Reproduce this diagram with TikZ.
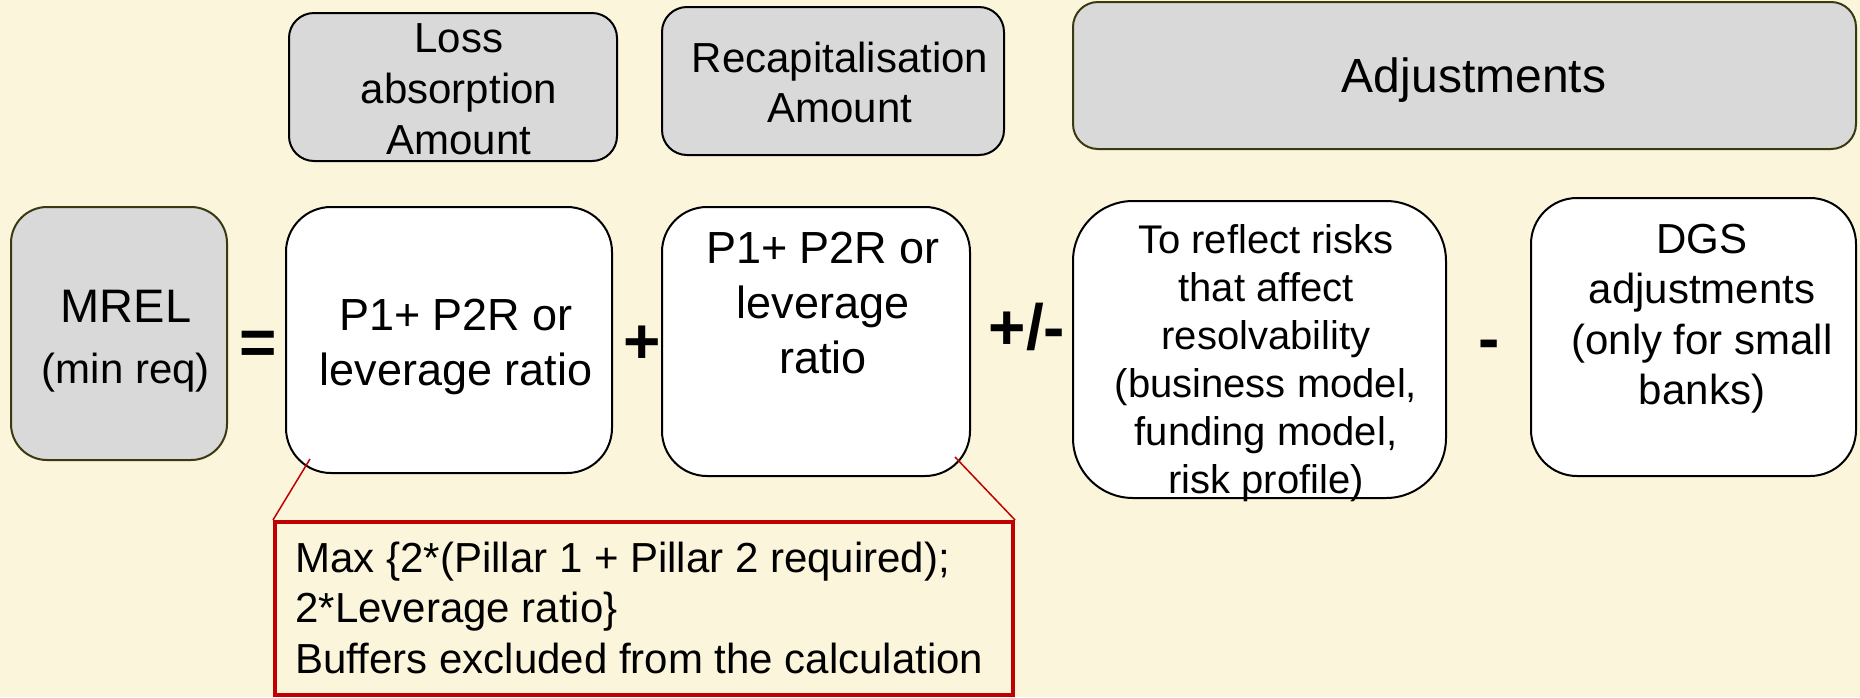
\documentclass[tikz,border=0pt]{standalone}
\usepackage{fontspec}
\setmainfont{Liberation Sans}
\usetikzlibrary{fit}
\definecolor{bgcream}{RGB}{250,245,219}
\definecolor{boxgray}{RGB}{217,217,217}
\definecolor{edgeolive}{RGB}{58,58,18}
\definecolor{notered}{RGB}{192,0,0}
\newcommand{\firstline}{\rule{0pt}{18pt}}
\begin{document}
\begin{tikzpicture}[x=0.5pt,y=-0.5pt,
  boxbase/.style={draw=black, line width=1pt, inner sep=0pt},
  graybox/.style={boxbase, fill=boxgray},
  whitebox/.style={boxbase, fill=white},
  txt/.style={align=center, inner sep=0pt, text=black},
  fsA/.style={font=\fontsize{21}{25.5}\selectfont},
  fsB/.style={font=\fontsize{22.5}{27.5}\selectfont},
  fsC/.style={font=\fontsize{20}{24}\selectfont},
  sign/.style={inner sep=0pt, font=\fontsize{32}{38}\selectfont\bfseries},
  redline/.style={draw=notered, line width=0.75pt}
]
% canvas
\fill[bgcream] (0,0) rectangle (1860,697);
\useasboundingbox (0,0) rectangle (1860,697);

% header boxes
\node[graybox, rounded corners=12.5pt, fit={(289,13) (617,161)}] (loss) {};
\node[graybox, rounded corners=12.5pt, fit={(662,7) (1004,155)}] (recap) {};
\node[graybox, draw=edgeolive, rounded corners=12.5pt, fit={(1073,2) (1856,149)}] (adj) {};

% formula boxes
\node[graybox, draw=edgeolive, rounded corners=18pt, fit={(11,207) (227,460)}] (mrel) {};
\node[whitebox, rounded corners=22.5pt, fit={(286,207) (612,473)}] (p1a) {};
\node[whitebox, rounded corners=22.5pt, fit={(662,207) (970,476)}] (p1b) {};
\node[whitebox, rounded corners=30pt, fit={(1073,201) (1446,498)}] (risk) {};
\node[whitebox, rounded corners=23pt, fit={(1531,198) (1856,476)}] (dgs) {};

% note box
\node[draw=notered, line width=2pt, inner sep=0pt, fit={(275,522) (1013,695)}] (note) {};

% callout lines
\coordinate (ca) at (310,459);
\coordinate (cb) at (955,457);
\draw[redline] (ca) -- (note.north west);
\draw[redline] (cb) -- (note.north east);

% header texts
\node[txt, fsA, anchor=north] (loss-t) at (459,16) {\firstline Loss\\absorption\\Amount};
\node[txt, font=\fontsize{21}{25}\selectfont, anchor=north] (recap-t) at (840,36) {\firstline Recapitalisation\\Amount};
\node[txt, font=\fontsize{24}{29}\selectfont, anchor=base] (adj-t) at (1474,92) {Adjustments};

% formula texts
\node[txt, font=\fontsize{23.5}{28}\selectfont, anchor=base] (mrel-t) at (126,322) {MREL};
\node[txt, fsA, anchor=base] (mrel-s) at (126,383) {(min req)};
\node[txt, fsB, anchor=north] (p1a-t) at (456,294) {\firstline P1+ P2R or\\leverage ratio};
\node[txt, fsB, anchor=north] (p1b-t) at (823,227) {\firstline P1+ P2R or\\leverage\\ratio};
\node[txt, fsC, anchor=north] (risk-t) at (1266,217) {\firstline To reflect risks\\that affect\\resolvability\\(business model,\\funding model,\\risk profile)};
\node[txt, font=\fontsize{21}{25.25}\selectfont, anchor=north] (dgs-t) at (1702,217) {\firstline DGS\\adjustments\\(only for small\\banks)};

% operators
\node[sign, anchor=base] (op-eq) at (258,364) {=};
\node[sign, anchor=base] (op-plus) at (642.5,363) {+};
\node[sign, anchor=base] (op-pm) at (1027,349) {+/-};
\node[sign, anchor=base] (op-minus) at (1489.5,360) {-};

% note text
\node[txt, align=left, font=\fontsize{21}{25.25}\selectfont, anchor=north west] (note-t) at (295,536)
  {\firstline Max \{2*(Pillar 1 + Pillar 2 required);\\2*Leverage ratio\}\\Buffers excluded from the calculation};
\end{tikzpicture}
\end{document}
